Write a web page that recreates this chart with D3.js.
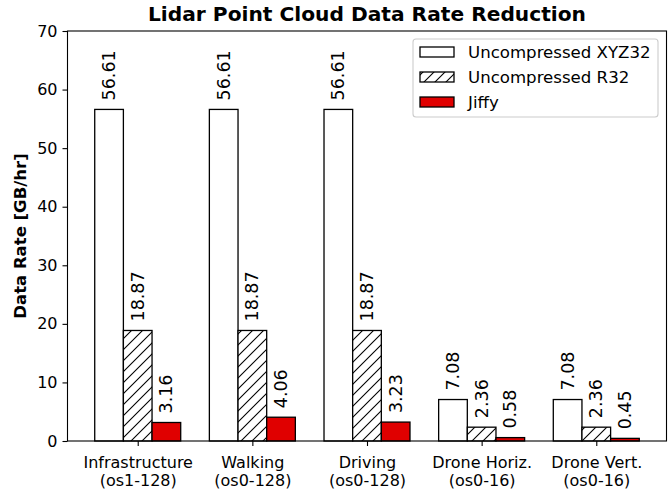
<!DOCTYPE html>
<html>
<head>
<meta charset="utf-8">
<script src="https://cdn.jsdelivr.net/npm/d3@7"></script>
<style>
html,body{margin:0;padding:0;background:#fff;}
svg{display:block;font-family:"DejaVu Sans",sans-serif;}
</style>
</head>
<body>
<svg id="chart" width="671" height="489"></svg>
<script>
const categories = ["Infrastructure\n(os1-128)", "Walking\n(os0-128)", "Driving\n(os0-128)", "Drone Horiz.\n(os0-16)", "Drone Vert.\n(os0-16)"];
const seriesNames = ["Uncompressed XYZ32", "Uncompressed R32", "Jiffy"];
const xyz32 = [56.61, 56.61, 56.61, 7.08, 7.08];
const r32 = [18.87, 18.87, 18.87, 2.36, 2.36];
const jiffy = [3.16, 4.06, 3.23, 0.58, 0.45];
const yTicks = [0, 10, 20, 30, 40, 50, 60, 70];
const title = "Lidar Point Cloud Data Rate Reduction";
const yLabel = "Data Rate [GB/hr]";

const series = [xyz32, r32, jiffy];
const fills = ["#ffffff", "url(#hatch)", "#e00000"];

const svg = d3.select("#chart");
const L = 67.5, R = 666.5, T = 31, B = 441;
const barW = 0.25;

const x = d3.scaleLinear().domain([-0.6125, 4.6125]).range([L, R]);
const y = d3.scaleLinear().domain([0, 70]).range([B, T]);

const defs = svg.append("defs");
const pat = defs.append("pattern").attr("id", "hatch").attr("patternUnits", "userSpaceOnUse")
  .attr("width", 11).attr("height", 11);
pat.append("rect").attr("width", 11).attr("height", 11).attr("fill", "#fff");
pat.append("path").attr("d", "M-1,12 L12,-1 M-3,3 L3,-3 M8,14 L14,8")
  .attr("stroke", "#000").attr("stroke-width", 1.1);

// bars
series.forEach((vals, si) => {
  const g = svg.append("g");
  g.selectAll("rect").data(vals).join("rect")
    .attr("x", (d, i) => x(i + (si - 1) * barW - barW / 2))
    .attr("width", x(barW) - x(0))
    .attr("y", d => y(d))
    .attr("height", d => y(0) - y(d))
    .attr("fill", fills[si])
    .attr("stroke", "#000")
    .attr("stroke-width", 1.3);
  g.selectAll("text").data(vals).join("text")
    .attr("transform", (d, i) => `translate(${x(i + (si - 1) * barW)},${y(d) - 9}) rotate(-90)`)
    .attr("dominant-baseline", "central")
    .attr("text-anchor", "start")
    .attr("font-size", 17.5)
    .text(d => d.toFixed(2));
});

// frame
svg.append("rect").attr("x", L).attr("y", T).attr("width", R - L).attr("height", B - T)
  .attr("fill", "none").attr("stroke", "#000").attr("stroke-width", 1.1);

// y axis
const yAxis = d3.axisLeft(y).tickValues(yTicks).tickSize(5).tickPadding(5).tickFormat(d3.format("d"));
const ya = svg.append("g").attr("transform", `translate(${L},0)`).call(yAxis);
ya.select(".domain").remove();
ya.selectAll("text").attr("font-size", 16).attr("font-family", "DejaVu Sans").attr("fill", "#000");
ya.selectAll("line").attr("stroke", "#000").attr("stroke-width", 1.1);

// x axis
const xAxis = d3.axisBottom(x).tickValues(d3.range(categories.length)).tickSize(5).tickFormat("");
const xa = svg.append("g").attr("transform", `translate(0,${B})`).call(xAxis);
xa.select(".domain").remove();
xa.selectAll("line").attr("stroke", "#000").attr("stroke-width", 1.1);
xa.selectAll(".tick").each(function(d) {
  const lines = categories[d].split("\n");
  const t = d3.select(this).append("text").attr("font-size", 16).attr("fill", "#000")
    .attr("text-anchor", "middle").attr("font-family", "DejaVu Sans");
  lines.forEach((ln, k) => t.append("tspan").attr("x", 0).attr("y", 26.5 + k * 18.5).text(ln));
});

// title
svg.append("text").attr("x", (L + R) / 2).attr("y", 21).attr("text-anchor", "middle")
  .attr("font-size", 20.2).attr("font-weight", "bold").text(title);

// y label
svg.append("text").attr("transform", `translate(26,${(T + B) / 2}) rotate(-90)`)
  .attr("text-anchor", "middle").attr("font-size", 16.5).attr("font-weight", "bold").text(yLabel);

// legend
const lg = svg.append("g");
lg.append("rect").attr("x", 413).attr("y", 39).attr("width", 245).attr("height", 78)
  .attr("rx", 3).attr("fill", "#fff").attr("fill-opacity", 0.8).attr("stroke", "#cccccc").attr("stroke-width", 1.1);
seriesNames.forEach((nm, i) => {
  const cy = 52 + i * 25;
  lg.append("rect").attr("x", 420).attr("y", cy - 5).attr("width", 34).attr("height", 10)
    .attr("fill", fills[i]).attr("stroke", "#000").attr("stroke-width", 1.3);
  lg.append("text").attr("x", 468).attr("y", cy).attr("dominant-baseline", "central")
    .attr("font-size", 16.6).text(nm);
});
</script>
</body>
</html>
